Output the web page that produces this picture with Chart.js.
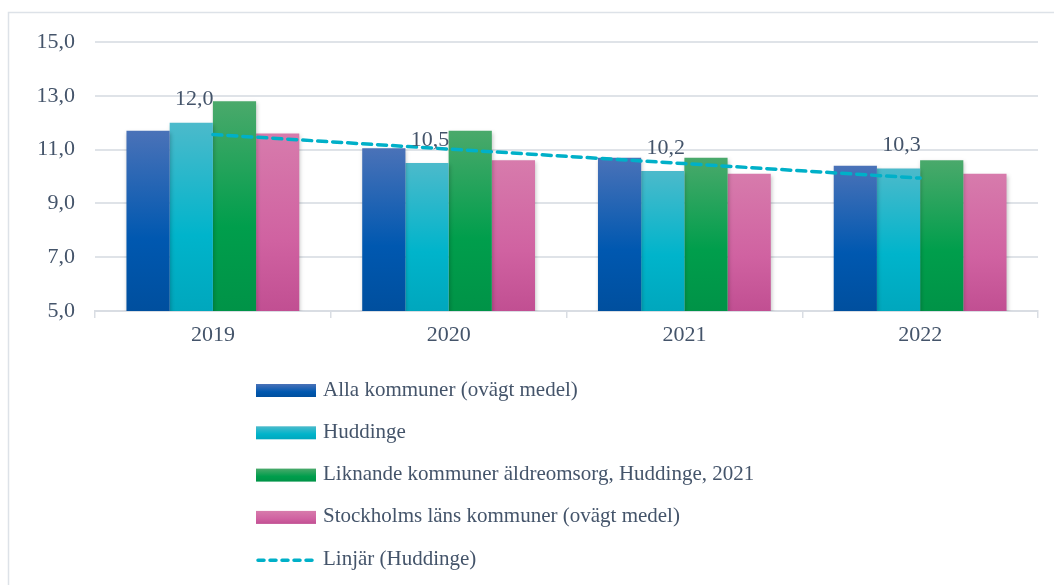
<!DOCTYPE html>
<html>
<head>
<meta charset="utf-8">
<script src="https://cdn.jsdelivr.net/npm/chart.js@4/dist/chart.umd.min.js"></script>
<style>
  body { margin: 0; background: #fff; }
  #wrap { position: relative; width: 1054px; height: 585px; }
</style>
</head>
<body>
<div id="wrap"><canvas id="barChart" width="1054" height="585"></canvas></div>
<script>
// data
var years = ['2019', '2020', '2021', '2022'];
var allaKommuner = [11.7, 11.05, 10.7, 10.4];
var huddinge = [12.0, 10.5, 10.2, 10.3];
var liknande = [12.8, 11.7, 10.7, 10.6];
var stockholmsLan = [11.6, 10.6, 10.1, 10.1];
var yTicks = [5, 7, 9, 11, 13, 15];

var labels = [
    'Alla kommuner (ovägt medel)',
    'Huddinge',
    'Liknande kommuner äldreomsorg, Huddinge, 2021',
    'Stockholms läns kommuner (ovägt medel)',
    'Linjär (Huddinge)'
];

// [top, middle, bottom] colours of each bar gradient
var gradients = [
    ['#4a72b8', '#0058b0', '#004f9e'],
    ['#4cbacb', '#00b4cb', '#00a7bd'],
    ['#4aa96b', '#009e4c', '#009347'],
    ['#d77bac', '#d062a1', '#c14f92']
];

var textColor = '#44546a';
var font = "'Liberation Serif', 'Times New Roman', serif";

// least squares trend of Huddinge (Excel "Linjär")
function trendLine(values) {
    var n = values.length, sx = 0, sy = 0, sxy = 0, sxx = 0;
    for (var i = 0; i < n; i++) {
        sx += i; sy += values[i]; sxy += i * values[i]; sxx += i * i;
    }
    var k = (n * sxy - sx * sy) / (n * sxx - sx * sx);
    var m = (sy - k * sx) / n;
    return values.map(function (v, i) { return m + k * i; });
}

function comma(v) {
    return v.toFixed(1).replace('.', ',');
}

function barFill(idx) {
    return function (c) {
        var chart = c.chart;
        var y = chart.scales.y;
        if (!chart.chartArea || c.raw == null || !y) return gradients[idx][1];
        var top = y.getPixelForValue(c.raw);
        var bot = y.getPixelForValue(5);
        var g = chart.ctx.createLinearGradient(0, top, 0, bot);
        g.addColorStop(0, gradients[idx][0]);
        g.addColorStop(0.6, gradients[idx][1]);
        g.addColorStop(1, gradients[idx][2]);
        return g;
    };
}

function barDataset(i, data) {
    return {
        type: 'bar',
        label: labels[i],
        data: data,
        backgroundColor: barFill(i),
        borderWidth: 0,
        categoryPercentage: 0.733,
        barPercentage: 1,
        order: 1
    };
}

var framePlugin = {
    id: 'frame',
    beforeDraw: function (chart) {
        var ctx = chart.ctx;
        ctx.save();
        ctx.strokeStyle = '#dde2e8';
        ctx.lineWidth = 1.5;
        ctx.strokeRect(8.5, 12.5, 1060, 600);
        ctx.restore();
    },
    beforeDatasetDraw: function (chart, args) {
        if (chart.data.datasets[args.index].type !== 'bar') return;
        var ctx = chart.ctx;
        ctx.save();
        ctx.shadowColor = 'rgba(0,0,0,0.22)';
        ctx.shadowBlur = 4;
        ctx.shadowOffsetX = 1;
        ctx.shadowOffsetY = 2;
    },
    afterDatasetDraw: function (chart, args) {
        if (chart.data.datasets[args.index].type !== 'bar') return;
        chart.ctx.restore();
    }
};

var valueLabels = {
    id: 'valueLabels',
    afterDatasetsDraw: function (chart) {
        var ctx = chart.ctx;
        var meta = chart.getDatasetMeta(1);
        ctx.save();
        ctx.font = '22px ' + font;
        ctx.fillStyle = textColor;
        ctx.textAlign = 'center';
        ctx.textBaseline = 'middle';
        meta.data.forEach(function (bar, i) {
            ctx.fillText(comma(huddinge[i]), bar.x + 3, bar.y - 23);
        });
        ctx.restore();
    }
};

var listLegend = {
    id: 'listLegend',
    afterDraw: function (chart) {
        var ctx = chart.ctx;
        var x = 256, y0 = 390, step = 42.3;
        ctx.save();
        ctx.font = '21px ' + font;
        ctx.textBaseline = 'middle';
        chart.data.datasets.forEach(function (ds, i) {
            var y = y0 + i * step;
            if (ds.type === 'bar') {
                var g = ctx.createLinearGradient(0, y - 6, 0, y + 7);
                g.addColorStop(0, gradients[i][0]);
                g.addColorStop(0.6, gradients[i][1]);
                g.addColorStop(1, gradients[i][2]);
                ctx.fillStyle = g;
                ctx.fillRect(x, y - 6, 60, 13);
            } else {
                ctx.strokeStyle = ds.borderColor;
                ctx.lineWidth = 3.5;
                ctx.lineCap = 'round';
                ctx.setLineDash([6, 6]);
                ctx.beginPath();
                ctx.moveTo(x + 2, y + 1);
                ctx.lineTo(x + 60, y + 1);
                ctx.stroke();
                ctx.setLineDash([]);
            }
            ctx.fillStyle = textColor;
            ctx.fillText(ds.label, x + 67, y);
        });
        ctx.restore();
    }
};

function draw() {
    var datasets = [
        barDataset(0, allaKommuner),
        barDataset(1, huddinge),
        barDataset(2, liknande),
        barDataset(3, stockholmsLan),
        {
            type: 'line',
            label: labels[4],
            data: trendLine(huddinge),
            borderColor: '#00b0c8',
            borderWidth: 3.5,
            borderDash: [9, 6],
            borderCapStyle: 'round',
            pointRadius: 0,
            fill: false,
            order: 0
        }
    ];

    new Chart(document.getElementById('barChart'), {
        type: 'bar',
        data: { labels: years, datasets: datasets },
        options: {
            responsive: false,
            animation: false,
            layout: { padding: { left: 0, right: 16, top: 42, bottom: 229 } },
            plugins: {
                legend: { display: false },
                tooltip: { enabled: false }
            },
            scales: {
                x: {
                    grid: {
                        offset: true,
                        drawOnChartArea: false,
                        drawTicks: true,
                        tickLength: 7,
                        color: '#d9dde3',
                        lineWidth: 1.5
                    },
                    border: { display: true, color: '#d9dde3', width: 2 },
                    ticks: {
                        color: textColor,
                        font: { family: font, size: 22 },
                        padding: 4
                    },
                    afterFit: function (scale) { scale.height = 45; }
                },
                y: {
                    min: 5,
                    max: 15,
                    afterBuildTicks: function (scale) {
                        scale.ticks = yTicks.map(function (v) { return { value: v }; });
                    },
                    grid: { color: '#dfe3e8', lineWidth: 2, drawTicks: false },
                    border: { display: false },
                    ticks: {
                        color: textColor,
                        font: { family: font, size: 22 },
                        padding: 20,
                        callback: function (v) { return comma(v); }
                    },
                    afterFit: function (scale) { scale.width = 95; }
                }
            }
        },
        plugins: [framePlugin, valueLabels, listLegend]
    });
}

draw();
</script>
</body>
</html>
